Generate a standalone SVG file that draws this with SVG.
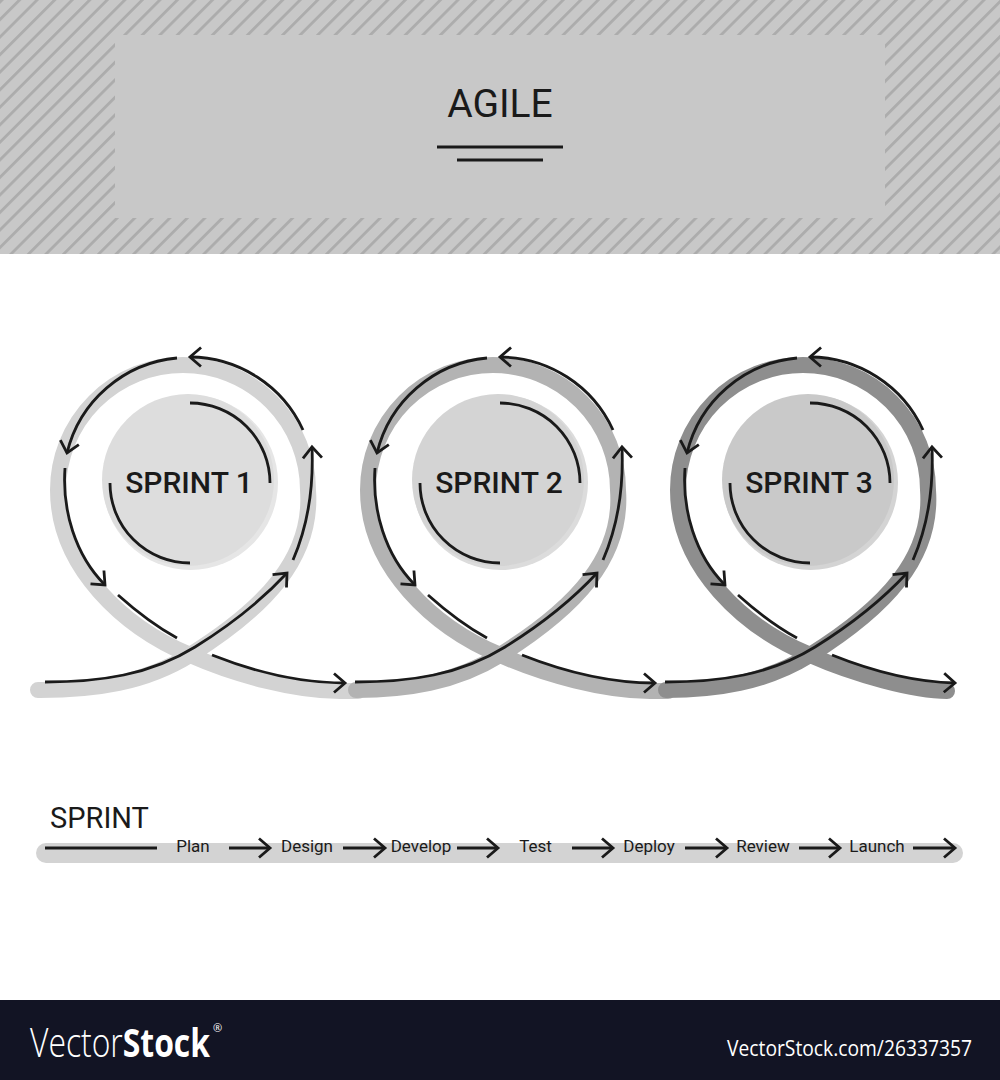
<svg xmlns="http://www.w3.org/2000/svg" width="1000" height="1080" viewBox="0 0 1000 1080">
  <defs>
    <pattern id="hatch" patternUnits="userSpaceOnUse" width="12.4" height="12.4" patternTransform="rotate(45)">
      <rect x="0" y="0" width="12.4" height="12.4" fill="#c8c8c8"/>
      <rect x="0" y="0" width="2.8" height="12.4" fill="#acacac"/>
    </pattern>
    <marker id="chev" viewBox="-14 -12 17 24" refX="0" refY="0" markerWidth="17" markerHeight="24" markerUnits="userSpaceOnUse" orient="auto">
      <path d="M-11,-9.5 L0,0 L-11,9.5" fill="none" stroke="#1a1a1a" stroke-width="2.8"/>
    </marker>
    <style>
      .ln { fill: none; stroke: #1a1a1a; stroke-width: 2.8; }
      .arr { marker-end: url(#chev); }
      .band { fill: none; stroke-width: 16; stroke-linecap: round; }
      .lbl { font-family: Roboto, "Liberation Sans", sans-serif; fill: #1a1a1a; }
      .sp { font-family: Roboto, "Liberation Sans", sans-serif; font-size: 30px; font-weight: 500; fill: #1a1a1a; text-anchor: middle; }
      .step { font-family: Roboto, "Liberation Sans", sans-serif; font-size: 17px; fill: #1a1a1a; text-anchor: middle; }
      .tl { fill: none; stroke: #1a1a1a; stroke-width: 3; marker-end: url(#chev); }
      .ft { font-family: "Open Sans", "Liberation Sans", sans-serif; fill: #ffffff; }
    </style>
  </defs>

  <rect x="0" y="0" width="1000" height="1080" fill="#ffffff"/>

  <!-- Header -->
  <g id="header">
    <rect x="0" y="0" width="1000" height="254" fill="url(#hatch)"/>
    <rect x="115" y="35" width="770" height="183" fill="#c8c8c8"/>
    <text x="500" y="117" class="lbl" font-size="39" text-anchor="middle">AGILE</text>
    <line x1="437" y1="147" x2="563" y2="147" stroke="#1a1a1a" stroke-width="2.8"/>
    <line x1="457" y1="160" x2="543" y2="160" stroke="#1a1a1a" stroke-width="2.8"/>
  </g>

  <!-- Bands -->
  <g id="bands">
    <path class="band" stroke="#d3d3d3" d="M38,690 L40,690 C95,690 145,683 190,655 C265,608 313,558 308,490 A125,125 0 0 0 183,365 A125,125 0 0 0 58,490 C58,568 125,628 190,655 C235,675 295,691 340,691 L358,691"/>
    <path class="band" stroke="#b3b3b3" d="M356,690 C405,690 455,683 500,655 C575,608 623,558 618,490 A125,125 0 0 0 493,365 A125,125 0 0 0 368,490 C368,568 435,628 500,655 C545,675 605,691 650,691 L668,691"/>
    <path class="band" stroke="#8e8e8e" d="M666,690 C715,690 765,683 810,655 C885,608 933,558 928,490 A125,125 0 0 0 803,365 A125,125 0 0 0 678,490 C678,568 745,628 810,655 C855,675 915,691 947,691"/>
  </g>

  <!-- Sprint 1 -->
  <g id="sprint1">
    <circle cx="190.5" cy="482.5" r="87.5" fill="#e6e6e6"/>
    <circle cx="188" cy="480" r="86" fill="#dddddd"/>
    <path class="ln" d="M190,403 A80,80 0 0 1 270,483"/>
    <path class="ln" d="M110,483 A80,80 0 0 0 190,563"/>
    <text x="189" y="493" class="sp">SPRINT 1</text>
  </g>

  <!-- Sprint 2 -->
  <g id="sprint2" transform="translate(310,0)">
    <circle cx="190.5" cy="482.5" r="87.5" fill="#dcdcdc"/>
    <circle cx="188" cy="480" r="86" fill="#d4d4d4"/>
    <path class="ln" d="M190,403 A80,80 0 0 1 270,483"/>
    <path class="ln" d="M110,483 A80,80 0 0 0 190,563"/>
    <text x="189" y="493" class="sp">SPRINT 2</text>
  </g>

  <!-- Sprint 3 -->
  <g id="sprint3" transform="translate(620,0)">
    <circle cx="190.5" cy="482.5" r="87.5" fill="#d4d4d4"/>
    <circle cx="188" cy="480" r="86" fill="#c9c9c9"/>
    <path class="ln" d="M190,403 A80,80 0 0 1 270,483"/>
    <path class="ln" d="M110,483 A80,80 0 0 0 190,563"/>
    <text x="189" y="493" class="sp">SPRINT 3</text>
  </g>

  <!-- Connectors -->
  <g id="connectors">
    <g id="loop1">
      <path class="ln arr" d="M45,682 C100,682 150,675 195,647 C232,624 262,600 287,573"/>
      <path class="ln arr" d="M293,560 C306,530 314,495 312,447"/>
      <path class="ln arr" d="M303,430 A125,125 0 0 0 190,357"/>
      <path class="ln arr" d="M177,358 A125,125 0 0 0 67,453"/>
      <path class="ln arr" d="M65,468 C62,510 75,555 105,585"/>
      <path class="ln" d="M118,595 C137,612 157,627 177,638"/>
      <path class="ln arr" d="M212,655 C255,672 300,683 345,683"/>
    </g>
    <g id="loop2" transform="translate(310,0)">
      <path class="ln arr" d="M45,682 C100,682 150,675 195,647 C232,624 262,600 287,573"/>
      <path class="ln arr" d="M293,560 C306,530 314,495 312,447"/>
      <path class="ln arr" d="M303,430 A125,125 0 0 0 190,357"/>
      <path class="ln arr" d="M177,358 A125,125 0 0 0 67,453"/>
      <path class="ln arr" d="M65,468 C62,510 75,555 105,585"/>
      <path class="ln" d="M118,595 C137,612 157,627 177,638"/>
      <path class="ln arr" d="M212,655 C255,672 300,683 345,683"/>
    </g>
    <g id="loop3" transform="translate(620,0)">
      <path class="ln arr" d="M45,682 C100,682 150,675 195,647 C232,624 262,600 287,573"/>
      <path class="ln arr" d="M293,560 C306,530 314,495 312,447"/>
      <path class="ln arr" d="M303,430 A125,125 0 0 0 190,357"/>
      <path class="ln arr" d="M177,358 A125,125 0 0 0 67,453"/>
      <path class="ln arr" d="M65,468 C62,510 75,555 105,585"/>
      <path class="ln" d="M118,595 C137,612 157,627 177,638"/>
      <path class="ln arr" d="M212,655 C252,671 295,682 335,683"/>
    </g>
  </g>

  <!-- Sprint timeline -->
  <g id="timeline">
    <text x="50" y="828" class="lbl" font-size="29">SPRINT</text>
    <rect x="36" y="843" width="927" height="20" rx="10" fill="#d3d3d3"/>
    <line x1="45" y1="848" x2="157" y2="848" stroke="#1a1a1a" stroke-width="3"/>
    <text x="193" y="852" class="step">Plan</text>
    <path class="tl" d="M229,848 L270,848"/>
    <text x="307" y="852" class="step">Design</text>
    <path class="tl" d="M343,848 L385,848"/>
    <text x="421" y="852" class="step">Develop</text>
    <path class="tl" d="M457,848 L498,848"/>
    <text x="535.5" y="852" class="step">Test</text>
    <path class="tl" d="M572,848 L613,848"/>
    <text x="649" y="852" class="step">Deploy</text>
    <path class="tl" d="M685,848 L727,848"/>
    <text x="763" y="852" class="step">Review</text>
    <path class="tl" d="M799,848 L840,848"/>
    <text x="877" y="852" class="step">Launch</text>
    <path class="tl" d="M913,848 L955,848"/>
  </g>

  <!-- Footer -->
  <g id="footer">
    <rect x="0" y="1000" width="1000" height="80" fill="#121424"/>
    <text x="30" y="1057" class="ft" font-size="40"><tspan textLength="180" lengthAdjust="spacingAndGlyphs"><tspan font-weight="300">Vector</tspan><tspan font-weight="700">Stock</tspan></tspan><tspan dx="3" dy="-25" font-size="11">®</tspan></text>
    <text x="727" y="1056" class="ft" font-size="22" textLength="245" lengthAdjust="spacingAndGlyphs">VectorStock.com/26337357</text>
  </g>
</svg>
